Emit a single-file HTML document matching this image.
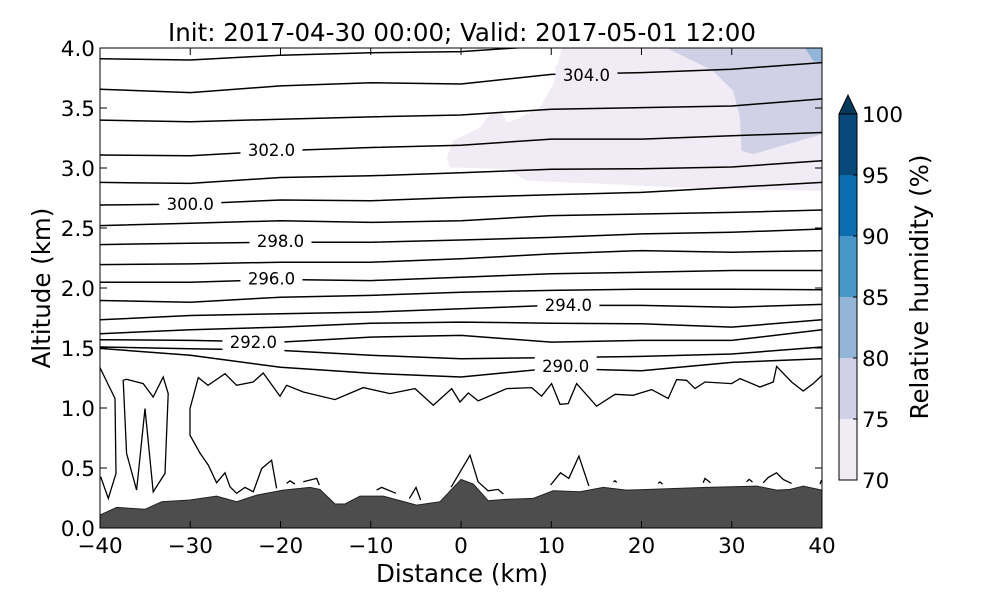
<!DOCTYPE html>
<html><head><meta charset="utf-8"><style>
body{margin:0;background:#fff;}
svg text{font-family:"DejaVu Sans","Liberation Sans",sans-serif;fill:#000;}
</style></head><body>
<svg id="chart" width="1000" height="600" viewBox="0 0 1000 600" xmlns="http://www.w3.org/2000/svg">
<defs><clipPath id="plotclip"><rect x="100" y="48" width="722" height="480"/></clipPath></defs>
<rect x="0" y="0" width="1000" height="600" fill="#fff"/>
<g id="shade" clip-path="url(#plotclip)"></g>
<g id="contours" clip-path="url(#plotclip)"></g>
<g id="terrain" clip-path="url(#plotclip)"></g>
<g id="labels"></g>
<g id="axes"></g>
<g id="cbar"></g>
<text x="462" y="41" font-size="24.5" text-anchor="middle">Init: 2017-04-30 00:00; Valid: 2017-05-01 12:00</text>
<text x="462" y="582" font-size="24.5" text-anchor="middle">Distance (km)</text>
<text x="0" y="0" font-size="24.5" text-anchor="middle" transform="translate(50,288) rotate(-90)">Altitude (km)</text>
<text x="0" y="0" font-size="24.5" text-anchor="middle" transform="translate(928,287) rotate(-90)">Relative humidity (%)</text>
</svg>
<script>
const contourDist = [-40,-30,-20,-10,0,10,20,30,40];
const thetaLevels = [305,304,303,302,301,300,299,298,297,296,295,294,293,292,291,290];
const thetaAlt = [
 [3.91,3.90,3.94,3.96,3.97,4.02,4.10,4.20,4.30],
 [3.657,3.628,3.684,3.711,3.70,3.78,3.795,3.823,3.878],
 [3.399,3.385,3.407,3.426,3.442,3.49,3.503,3.517,3.576],
 [3.108,3.102,3.144,3.171,3.19,3.241,3.241,3.268,3.296],
 [2.880,2.872,2.921,2.935,2.96,2.99,2.994,3.008,3.06],
 [2.692,2.70,2.733,2.727,2.755,2.777,2.797,2.838,2.88],
 [2.52,2.539,2.561,2.547,2.561,2.603,2.617,2.63,2.65],
 [2.362,2.373,2.381,2.381,2.40,2.422,2.451,2.464,2.492],
 [2.195,2.201,2.215,2.215,2.243,2.284,2.312,2.298,2.312],
 [2.048,2.048,2.071,2.062,2.09,2.118,2.131,2.146,2.146],
 [1.896,1.882,1.923,1.938,1.965,1.98,1.99,1.99,1.985],
 [1.735,1.771,1.785,1.799,1.827,1.855,1.855,1.84,1.863],
 [1.619,1.652,1.674,1.707,1.716,1.707,1.702,1.674,1.735],
 [1.569,1.563,1.549,1.591,1.605,1.549,1.563,1.563,1.652],
 [1.508,1.494,1.480,1.439,1.411,1.42,1.43,1.45,1.508],
 [1.497,1.439,1.34,1.289,1.258,1.33,1.31,1.38,1.411]
];
const lowDist = [-20.43,-20.99,-22.08,-23.01,-23.93,-24.86,-25.6,-26.15,-27.08,-28.0,-28.92,-30.03,-30.03,-29.11,-28.03,-26.15,-24.86,-23.02,-21.92,-20.06,-19.32,-17.47,-13.96,-10.83,-7.87,-5.10,-3.07,-1.03,-0.11,0.81,1.91,5.05,7.82,8.93,10.04,10.97,11.88,12.81,15.03,17.06,19.08,21.12,22.96,23.89,25.0,25.93,27.04,29.98,30.91,33.13,34.6,34.97,36.63,37.92,39.03,40];
const lowAlt = [0.33,0.565,0.496,0.302,0.338,0.289,0.343,0.46,0.377,0.524,0.624,0.773,0.995,1.253,1.189,1.286,1.189,1.217,1.292,1.098,1.189,1.133,1.07,1.17,1.12,1.162,1.023,1.162,1.05,1.125,1.059,1.162,1.17,1.098,1.203,1.031,1.037,1.203,1.015,1.114,1.106,1.153,1.079,1.237,1.231,1.162,1.217,1.203,1.245,1.175,1.217,1.347,1.217,1.142,1.203,1.272];
const edgeDist = [-40,-38.34,-38.23,-39.08,-39.92];
const edgeAlt = [1.336,1.079,0.455,0.247,0.427];
const loopDist = [-35.94,-37.05,-37.43,-37.05,-35.21,-34.1,-33.0,-32.44,-32.8,-34.1,-35.01,-35.94];
const loopAlt = [0.316,0.621,1.231,1.239,1.203,1.092,1.258,1.12,0.455,0.302,0.995,0.316];
const bitsDist = [[-19.32,-18.95,-18.39],[-17.47,-15.99,-15.7],[-9.35,-8.8,-7.2],[-5.72,-4.99,-4.48],[-1.1,1.0,1.9,3.0,4.1,4.7],[9.93,11.03,11.95,13.06,14.17],[16.87,17.06,17.25],[21.85,22.05,22.34],[26.84,27.04,27.65],[31.64,31.93,32.3],[33.49,34.05,34.97,35.7,36.63],[39.78,39.96]];
const bitsAlt = [[0.372,0.393,0.366],[0.385,0.413,0.358],[0.316,0.338,0.289],[0.247,0.338,0.233],[0.34,0.607,0.385,0.31,0.322,0.283],[0.358,0.46,0.413,0.599,0.349],[0.385,0.393,0.38],[0.372,0.383,0.366],[0.377,0.413,0.377],[0.385,0.405,0.383],[0.377,0.422,0.46,0.405,0.372],[0.366,0.4]];
const terrainDist = [-40,-38.15,-35.01,-33.16,-30.03,-27.08,-24.85,-22.64,-19.69,-16.73,-15.62,-13.96,-12.85,-11.19,-8.61,-4.91,-2.33,0,1.36,3.02,5.05,8.01,10.22,13.19,15.77,18.36,27.22,32.76,34.97,36.45,37.93,40];
const terrainAlt = [0.108,0.172,0.156,0.219,0.233,0.266,0.219,0.274,0.316,0.338,0.322,0.20,0.20,0.266,0.266,0.191,0.219,0.405,0.366,0.227,0.239,0.247,0.31,0.302,0.338,0.316,0.338,0.349,0.316,0.322,0.349,0.316];
const rh70Dist = [11.15,10.22,8.75,6.54,5.06,4.5,3.21,2.1,-0.85,-1.59,-1.22,5.06,7.27,16.13,27.22,40,40];
const rh70Alt = [4.0,3.698,3.504,3.42,3.379,3.476,3.449,3.337,3.227,3.088,3.005,2.991,2.894,2.867,2.825,2.811,4.0];
const rh75Dist = [22.78,27.94,30.16,30.91,31.09,32.38,40,40];
const rh75Alt = [4.0,3.809,3.642,3.42,3.143,3.116,3.282,4.0];
const rh80Dist = [38.12,39.04,40,40];
const rh80Alt = [4.0,3.892,3.878,4.0];
const labelText = ["304.0","302.0","300.0","298.0","296.0","294.0","292.0","290.0"];
const labelDist = [13.9,-21.0,-30.0,-20.0,-21.0,11.9,-23.0,11.6];
const labelAlt = [3.775,3.15,2.70,2.39,2.08,1.86,1.55,1.35];
const xTicks = [-40,-30,-20,-10,0,10,20,30,40];
const yTicks = [0.0,0.5,1.0,1.5,2.0,2.5,3.0,3.5,4.0];
const cbLevels = [70,75,80,85,90,95,100];
const cbColors = ["#f0ebf4","#d0d1e6","#92b5d8","#4898c7","#0a6eb0","#08497a"];

const NS="http://www.w3.org/2000/svg";
const X0=100,X1=822,Y0=528,Y1=48;
function sx(d){return X0+(d+40)/80*(X1-X0);}
function sy(a){return Y0-a/4*(Y0-Y1);}
function mk(tag,attrs,parent){const e=document.createElementNS(NS,tag);for(const k in attrs)e.setAttribute(k,attrs[k]);parent.appendChild(e);return e;}
function pts(ds,as){return ds.map((d,i)=>sx(d).toFixed(1)+","+sy(as[i]).toFixed(1)).join(" ");}

const shade=document.getElementById('shade');
let p=mk('polygon',{points:pts(rh70Dist,rh70Alt),fill:cbColors[0]},shade);


p=mk('polygon',{points:pts(rh75Dist,rh75Alt),fill:cbColors[1]},shade);


p=mk('polygon',{points:pts(rh80Dist,rh80Alt),fill:cbColors[2]},shade);



const cg=document.getElementById('contours');
thetaAlt.forEach((row,i)=>{
  const l=mk('polyline',{points:pts(contourDist,row),fill:'none',stroke:'#000','stroke-width':1.5,'stroke-linejoin':'round'},cg);
  
  
});
let l=mk('polyline',{points:pts(lowDist,lowAlt),fill:'none',stroke:'#000','stroke-width':1.3},cg);


l=mk('polyline',{points:pts(edgeDist,edgeAlt),fill:'none',stroke:'#000','stroke-width':1.3},cg);


l=mk('polyline',{points:pts(loopDist,loopAlt),fill:'none',stroke:'#000','stroke-width':1.3},cg);


bitsDist.forEach((ds,i)=>{
  const b=mk('polyline',{points:pts(ds,bitsAlt[i]),fill:'none',stroke:'#000','stroke-width':1.3},cg);
  
  
});

const tg=document.getElementById('terrain');
const tp=pts(terrainDist,terrainAlt)+" "+sx(40)+","+sy(0)+" "+sx(-40)+","+sy(0);
const t=mk('polygon',{points:tp,fill:'#4d4d4d',stroke:'#222','stroke-width':1},tg);



const lg=document.getElementById('labels');
labelText.forEach((s,i)=>{
  const x=sx(labelDist[i]),y=sy(labelAlt[i]);
  const r=mk('rect',{x:x-31,y:y-10,width:62,height:20,fill:i===0?cbColors[0]:'#fff'},lg);
  
  
  const tx=mk('text',{x:x,y:y+6,'font-size':16.5,'text-anchor':'middle'},lg);
  tx.textContent=s;
  
  
});

const ag=document.getElementById('axes');
const fr=mk('rect',{x:X0,y:Y1,width:X1-X0,height:Y0-Y1,fill:'none',stroke:'#000','stroke-width':1},ag);


xTicks.forEach(v=>{
  const x=sx(v);
  mk('line',{x1:x,y1:Y0,x2:x,y2:Y0-7,stroke:'#000'},ag);
  mk('line',{x1:x,y1:Y1,x2:x,y2:Y1+7,stroke:'#000'},ag);
  const tx=mk('text',{x:x,y:553,'font-size':21.5,'text-anchor':'middle'},ag);
  tx.textContent=(v<0?'\u2212':'')+Math.abs(v);
  
  
});
yTicks.forEach(v=>{
  const y=sy(v);
  mk('line',{x1:X0,y1:y,x2:X0+7,y2:y,stroke:'#000'},ag);
  mk('line',{x1:X1,y1:y,x2:X1-7,y2:y,stroke:'#000'},ag);
  const tx=mk('text',{x:95,y:y+8,'font-size':21.5,'text-anchor':'end'},ag);
  tx.textContent=v.toFixed(1);
  
  
});

const cb=document.getElementById('cbar');
const CX0=839,CX1=857,CY0=480,CY1=114;
function cy(v){return CY0-(v-70)/30*(CY0-CY1);}
for(let i=0;i<cbColors.length;i++){
  const r=mk('rect',{x:CX0,y:cy(cbLevels[i+1]),width:CX1-CX0,height:cy(cbLevels[i])-cy(cbLevels[i+1]),fill:cbColors[i]},cb);
  
  
}
const tri=mk('polygon',{points:CX0+","+CY1+" "+CX1+","+CY1+" "+((CX0+CX1)/2)+",95",fill:'#023a5c',stroke:'#000','stroke-width':1},cb);


mk('rect',{x:CX0,y:CY1,width:CX1-CX0,height:CY0-CY1,fill:'none',stroke:'#000','stroke-width':1},cb);
cbLevels.forEach(v=>{
  const y=cy(v);
  mk('line',{x1:CX1,y1:y,x2:CX1-4,y2:y,stroke:'#000'},cb);
  const tx=mk('text',{x:862,y:y+8,'font-size':21.5},cb);
  tx.textContent=String(v);
  
  
});
</script>
</body></html>
